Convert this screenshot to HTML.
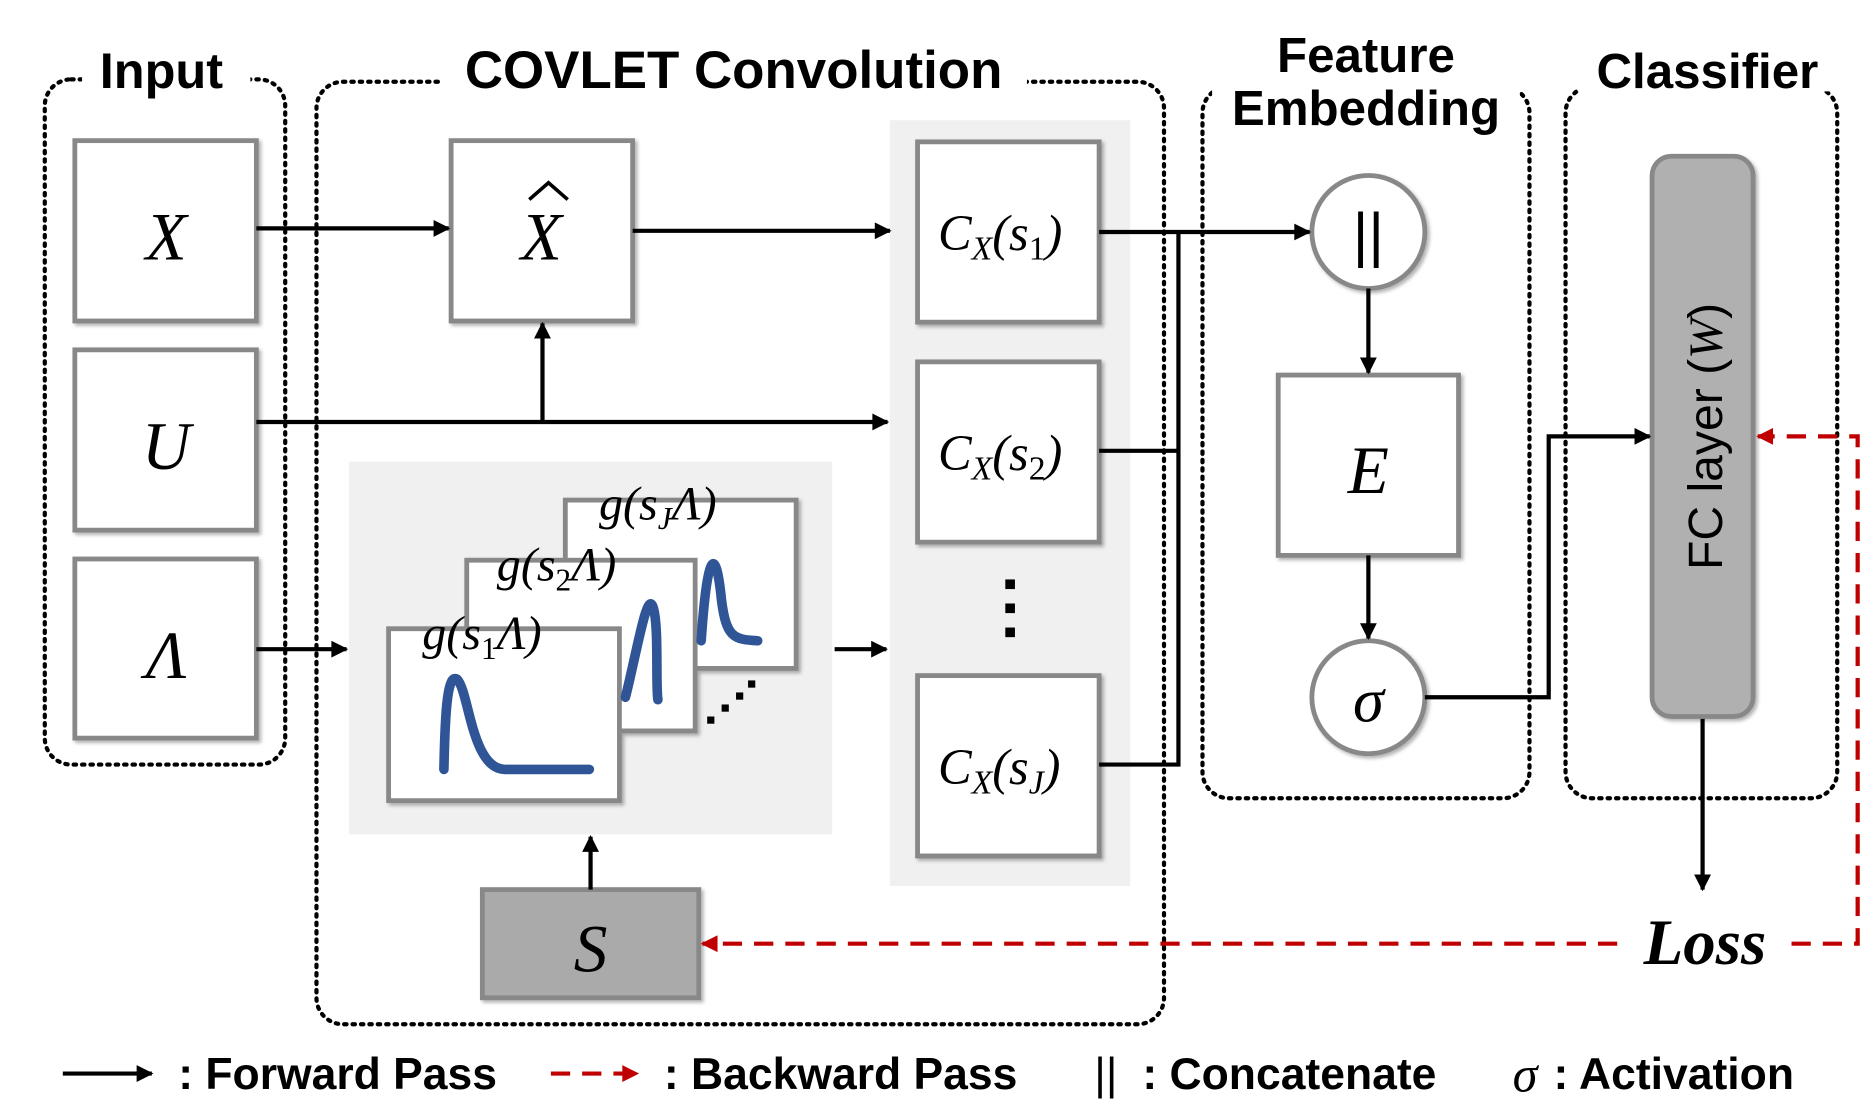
<!DOCTYPE html>
<html><head><meta charset="utf-8"><style>
html,body{margin:0;padding:0;background:#fff;}
svg{display:block;}
.t{font-family:"Liberation Sans",sans-serif;font-weight:bold;fill:#000;}
.m{font-family:"Liberation Serif",serif;font-style:italic;fill:#000;}
</style></head><body>
<svg width="1876" height="1106" viewBox="0 0 1560 920" xmlns="http://www.w3.org/2000/svg">
<defs>
<marker id="ak" viewBox="0 0 10 10" markerWidth="18" markerHeight="14" refX="9" refY="5" orient="auto" markerUnits="userSpaceOnUse"><path d="M0,0 L10,5 L0,10 z" fill="#000"/></marker>
<marker id="ar" viewBox="0 0 10 10" markerWidth="18" markerHeight="14" refX="9" refY="5" orient="auto" markerUnits="userSpaceOnUse"><path d="M0,0 L10,5 L0,10 z" fill="#c00000"/></marker>
<filter id="sh" x="-10%" y="-10%" width="130%" height="130%"><feDropShadow dx="2" dy="2" stdDeviation="1.5" flood-color="#000" flood-opacity="0.3"/></filter>
</defs>
<g fill="none" stroke="#000" stroke-width="3.5" stroke-dasharray="2 5" stroke-linecap="round">
<rect x="37" y="66" width="200" height="570" rx="22"/>
<rect x="263" y="68" width="705" height="784" rx="22"/>
<rect x="1000" y="72" width="272" height="592" rx="22"/>
<rect x="1302" y="72" width="226" height="592" rx="22"/>
</g>
<rect x="68" y="36" width="140" height="40" fill="#fff"/>
<rect x="366" y="36" width="488" height="40" fill="#fff"/>
<rect x="1008" y="26" width="256" height="90" fill="#fff"/>
<rect x="1312" y="36" width="212" height="40" fill="#fff"/>
<text class="t" x="134" y="73" font-size="42" text-anchor="middle">Input</text>
<text class="t" x="610" y="73" font-size="44" text-anchor="middle">COVLET Convolution</text>
<text class="t" x="1136" y="60" font-size="41" text-anchor="middle">Feature</text>
<text class="t" x="1136" y="104" font-size="41" text-anchor="middle">Embedding</text>
<text class="t" x="1420" y="73" font-size="41" text-anchor="middle">Classifier</text>
<rect x="740" y="100" width="200" height="637" fill="#f0f0f0"/>
<rect x="290" y="384" width="402" height="310" fill="#f0f0f0"/>
<g fill="#fff" stroke="#888" stroke-width="4" filter="url(#sh)">
<rect x="62" y="117" width="151" height="150"/>
<rect x="62" y="291" width="151" height="150"/>
<rect x="62" y="465" width="151" height="149"/>
<rect x="375" y="117" width="151" height="150"/>
<rect x="763" y="118" width="151" height="150"/>
<rect x="763" y="301" width="151" height="150"/>
<rect x="763" y="562" width="151" height="150"/>
<rect x="1063" y="312" width="150" height="150"/>
<rect x="470" y="416" width="192" height="140"/>
<rect x="388" y="466" width="190" height="142"/>
<rect x="323" y="523" width="192" height="143"/>
<circle cx="1138" cy="193" r="47"/>
<circle cx="1138" cy="580" r="47"/>
</g>
<rect x="401" y="740" width="180" height="90" fill="#aaa" stroke="#888" stroke-width="4" filter="url(#sh)"/>
<rect x="1374" y="130" width="84" height="466" rx="16" fill="#b0b0b0" stroke="#888" stroke-width="4" filter="url(#sh)"/>
<g fill="none" stroke="#2f5597" stroke-width="8" stroke-linecap="round">
<path d="M583,533 C588,460 595,450 600,500 C604,530 610,532 630,533"/>
<path d="M520,580 C530,540 538,490 543,505 C548,520 545,570 547,582"/>
<path d="M369,640 C370,590 372,560 380,565 C390,575 392,640 420,640 L490,640"/>
</g>
<text class="m" x="138" y="216" font-size="56" text-anchor="middle">X</text>
<text class="m" x="138" y="390" font-size="56" text-anchor="middle">U</text>
<text class="m" x="138" y="564" font-size="56" text-anchor="middle">Λ</text>
<text class="m" x="450" y="216" font-size="56" text-anchor="middle">X</text>
<path d="M440,166 L456,152 L472,166" fill="none" stroke="#000" stroke-width="3"/>
<text class="m" x="1138" y="410" font-size="56" text-anchor="middle">E</text>
<text class="m" x="491" y="808" font-size="56" text-anchor="middle">S</text>
<text class="m" x="1138" y="600" font-size="52" text-anchor="middle">σ</text>
<text x="1138" y="212" font-size="50" text-anchor="middle" font-family="Liberation Sans">||</text>
<g class="m" font-size="42">
<text x="780" y="208">C<tspan font-size="28" dy="8">X</tspan><tspan dy="-8">(s</tspan><tspan font-size="28" dy="8" font-style="normal">1</tspan><tspan dy="-8">)</tspan></text>
<text x="780" y="391">C<tspan font-size="28" dy="8">X</tspan><tspan dy="-8">(s</tspan><tspan font-size="28" dy="8" font-style="normal">2</tspan><tspan dy="-8">)</tspan></text>
<text x="780" y="652">C<tspan font-size="28" dy="8">X</tspan><tspan dy="-8">(s</tspan><tspan font-size="28" dy="8">J</tspan><tspan dy="-8">)</tspan></text>
</g>
<g class="m" font-size="40">
<text x="498" y="432">g(s<tspan font-size="26" dy="8">J</tspan><tspan dy="-8">Λ)</tspan></text>
<text x="413" y="483">g(s<tspan font-size="26" dy="8" font-style="normal">2</tspan><tspan dy="-8">Λ)</tspan></text>
<text x="351" y="540">g(s<tspan font-size="26" dy="8" font-style="normal">1</tspan><tspan dy="-8">Λ)</tspan></text>
</g>
<g fill="#000"><rect x="836" y="482" width="8" height="8"/><rect x="836" y="502" width="8" height="8"/><rect x="836" y="522" width="8" height="8"/>
<rect x="588" y="596" width="6" height="6"/><rect x="600" y="586" width="6" height="6"/><rect x="612" y="576" width="6" height="6"/><rect x="622" y="566" width="6" height="6"/></g>
<g fill="none" stroke="#000" stroke-width="3.5">
<line x1="213" y1="190" x2="373" y2="190" marker-end="url(#ak)"/>
<line x1="526" y1="192" x2="740" y2="192" marker-end="url(#ak)"/>
<line x1="213" y1="351" x2="738" y2="351" marker-end="url(#ak)"/>
<line x1="451" y1="351" x2="451" y2="269" marker-end="url(#ak)"/>
<line x1="213" y1="540" x2="288" y2="540" marker-end="url(#ak)"/>
<line x1="694" y1="540" x2="737" y2="540" marker-end="url(#ak)"/>
<line x1="914" y1="193" x2="1089" y2="193" marker-end="url(#ak)"/>
<polyline points="914,375 980,375"/>
<polyline points="914,636 980,636 980,193"/>
<line x1="1138" y1="240" x2="1138" y2="310" marker-end="url(#ak)"/>
<line x1="1138" y1="462" x2="1138" y2="531" marker-end="url(#ak)"/>
<polyline points="1185,580 1288,580 1288,363 1372,363" marker-end="url(#ak)"/>
<line x1="1416" y1="598" x2="1416" y2="740" marker-end="url(#ak)"/>
<line x1="491" y1="740" x2="491" y2="696" marker-end="url(#ak)"/>
<line x1="52" y1="893" x2="126" y2="893" marker-end="url(#ak)"/>
</g>
<g fill="none" stroke="#c00000" stroke-width="3.5" stroke-dasharray="16 10">
<polyline points="1490,785 1545,785 1545,363 1462,363" marker-end="url(#ar)"/>
<line x1="1345" y1="785" x2="584" y2="785" marker-end="url(#ar)"/>
<line x1="458" y1="893" x2="530" y2="893" marker-end="url(#ar)"/>
</g>
<text x="1418" y="802" font-size="54" font-family="Liberation Serif" font-weight="bold" font-style="italic" text-anchor="middle">Loss</text>
<text x="1432" y="363" font-size="40" font-family="Liberation Sans" text-anchor="middle" transform="rotate(-90 1432 363)" fill="#000">FC layer (<tspan class="m">W</tspan>)</text>
<g class="t" font-size="37">
<text x="148" y="906">: Forward Pass</text>
<text x="552" y="906">: Backward Pass</text>
<text x="910" y="906" style="font-weight:normal">||</text>
<text x="950" y="906">: Concatenate</text>
<text class="m" x="1258" y="908" style="font-weight:normal" font-size="42">σ</text>
<text x="1292" y="906">: Activation</text>
</g>
</svg>
</body></html>
